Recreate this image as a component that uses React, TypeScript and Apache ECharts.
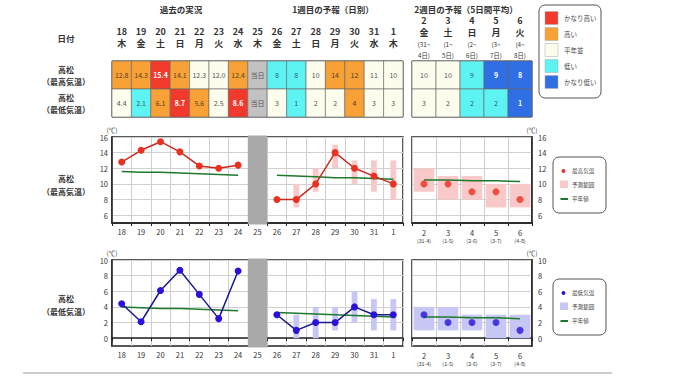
import React, { useEffect, useRef } from 'react';
import * as echarts from 'echarts';

const FONT = '"Noto Sans CJK JP", "Noto Sans", sans-serif';

// ---- categories ----
const days1 = ['18', '19', '20', '21', '22', '23', '24', '25', '26', '27', '28', '29', '30', '31', '1'];
const weekdays1 = ['木', '金', '土', '日', '月', '火', '水', '木', '金', '土', '日', '月', '火', '水', '木'];
const days2 = ['2', '3', '4', '5', '6'];
const weekdays2 = ['金', '土', '日', '月', '火'];
const periodStart2 = ['(31~', '(1~', '(2~', '(3~', '(4~'];
const periodEnd2 = ['4日)', '5日)', '6日)', '7日)', '8日)'];
const periodShort2 = ['(31-4)', '(1-5)', '(2-6)', '(3-7)', '(4-8)'];
const tableRows = ['最高気温', '最低気温'];

// ---- table values & classes ----
const tableMax1 = ['12.8', '14.3', '15.4', '14.1', '12.3', '12.0', '12.4', '当日', '8', '8', '10', '14', '12', '11', '10'];
const tableMaxClass1 = ['high', 'high', 'vhigh', 'high', 'normal', 'normal', 'high', 'today', 'low', 'low', 'normal', 'high', 'high', 'normal', 'normal'];
const tableMin1 = ['4.4', '2.1', '6.1', '8.7', '5.6', '2.5', '8.6', '当日', '3', '1', '2', '2', '4', '3', '3'];
const tableMinClass1 = ['normal', 'low', 'high', 'vhigh', 'high', 'normal', 'vhigh', 'today', 'normal', 'low', 'normal', 'normal', 'high', 'normal', 'normal'];
const tableMax2 = ['10', '10', '9', '9', '8'];
const tableMaxClass2 = ['normal', 'normal', 'low', 'vlow', 'vlow'];
const tableMin2 = ['3', '2', '2', '2', '1'];
const tableMinClass2 = ['normal', 'normal', 'low', 'low', 'vlow'];

// ---- max temperature ----
const obsMax = [12.8, 14.3, 15.4, 14.1, 12.3, 12.0, 12.4];
const fcMax = [8, 8, 10, 14, 12, 11, 10];
const fcMaxLow = [null, 7, 9, 12, 10, 9, 8];
const fcMaxHigh = [null, 10, 12, 15, 13, 13, 13];
const normMaxObs = [11.6, 11.5, 11.5, 11.4, 11.3, 11.2, 11.1];
const normMaxFc = [11.1, 11.0, 10.9, 10.8, 10.8, 10.7, 10.6];
const wk2Max = [10, 10, 9, 9, 8];
const wk2MaxLow = [9, 8, 8, 7, 7];
const wk2MaxHigh = [12, 11, 11, 10, 10];
const wk2NormMax = [10.5, 10.5, 10.4, 10.4, 10.3];

// ---- min temperature ----
const obsMin = [4.4, 2.1, 6.1, 8.7, 5.6, 2.5, 8.6];
const fcMin = [3, 1, 2, 2, 4, 3, 3];
const fcMinLow = [null, 0, 0, 1, 2, 1, 1];
const fcMinHigh = [null, 3, 4, 4, 6, 5, 5];
const normMinObs = [4.0, 3.9, 3.8, 3.8, 3.7, 3.6, 3.5];
const normMinFc = [3.3, 3.2, 3.1, 3.0, 2.9, 2.8, 2.7];
const wk2Min = [3, 2, 2, 2, 1];
const wk2MinLow = [1, 1, 1, 0, 0];
const wk2MinHigh = [4, 4, 3, 3, 3];
const wk2NormMin = [2.7, 2.7, 2.6, 2.6, 2.5];

const maxAxis = { min: 5, max: 16 };
const minAxis = { min: -1, max: 10 };

const legendClasses = ['vhigh', 'high', 'normal', 'low', 'vlow'];
const legendClassLabels = ['かなり高い', '高い', '平年並', '低い', 'かなり低い'];

const CLASS_STYLE: Record<string, { fill: string; text: string; bold: boolean }> = {
  vhigh: { fill: '#f23a2c', text: '#ffffff', bold: true },
  high: { fill: '#f7a136', text: '#5a4020', bold: false },
  normal: { fill: '#fdfdee', text: '#555555', bold: false },
  low: { fill: '#5ef3f3', text: '#2f5f70', bold: false },
  vlow: { fill: '#2f6fe3', text: '#ffffff', bold: true },
  today: { fill: '#c2c2c2', text: '#555555', bold: false },
};

const OBS_LEN = 7;
const GAP = 1; // day 25 (today)
const pad = (n: number) => Array(n).fill(null);
const series1 = (obs: (number | null)[], fc: (number | null)[]) => ({
  obs: [...obs, ...pad(GAP + fc.length)],
  fc: [...pad(obs.length + GAP), ...fc],
});

function tableRender(texts: string[][], classes: string[][]) {
  return (params: any, api: any) => {
    const c = api.value(0);
    const r = api.value(1);
    const p = api.coord([c, r]);
    const s = api.size([1, 1]);
    const st = CLASS_STYLE[classes[r][c]];
    return {
      type: 'group',
      children: [
        {
          type: 'rect',
          shape: { x: p[0] - s[0] / 2, y: p[1] - s[1] / 2, width: s[0], height: s[1] },
          style: { fill: st.fill, stroke: '#666', lineWidth: 0.6 },
        },
        {
          type: 'text',
          style: {
            text: texts[r][c], x: p[0], y: p[1], align: 'center', verticalAlign: 'middle',
            fill: st.text, fontSize: 7, fontWeight: st.bold ? 'bold' : 'normal', fontFamily: FONT,
          },
        },
      ],
    };
  };
}

function rangeRender(color: string, ratio: number, ext = 0) {
  return (params: any, api: any) => {
    const x = api.value(0);
    const top = api.coord([x, api.value(2)]);
    const bot = api.coord([x, api.value(1)]);
    const w = api.size([1, 0])[0] * ratio;
    return {
      type: 'rect',
      shape: { x: top[0] - w / 2, y: top[1] - ext, width: w, height: bot[1] - top[1] + 2 * ext },
      style: { fill: color },
    };
  };
}

const rangeData = (lo: (number | null)[], hi: (number | null)[], offset: number) =>
  lo.map((v, i) => (v == null || hi[i] == null ? null : [i + offset, v, hi[i]])).filter((d) => d) as number[][];

const tableData = (cols: number) => {
  const out: number[][] = [];
  for (let r = 0; r < 2; r++) for (let c = 0; c < cols; c++) out.push([c, r]);
  return out;
};

function txt(text: string, x: number, y: number, size: number, bold = true, align = 'center', fill = '#333') {
  return {
    type: 'text', x, y, silent: true,
    style: {
      text, fill, fontSize: size, fontWeight: bold ? 'bold' : 'normal', fontFamily: FONT,
      align, textAlign: align, verticalAlign: 'middle', textVerticalAlign: 'middle',
    },
  };
}

const App: React.FC = () => {
  const ref = useRef<HTMLDivElement>(null);

  useEffect(() => {
    if (!ref.current) return;
    const chart = echarts.init(ref.current, null, { renderer: 'svg' });

    const P1L = 112, P1W = 291, P2L = 412, P2W = 120;
    const grids = [
      { left: P1L, top: 61, width: P1W, height: 56, show: true, borderColor: '#333', borderWidth: 1 },
      { left: P2L, top: 61, width: P2W, height: 56, show: true, borderColor: '#333', borderWidth: 1 },
      { left: P1L, top: 137, width: P1W, height: 86, show: true, borderColor: '#222', borderWidth: 1.5 },
      { left: P2L, top: 137, width: P2W, height: 86, show: true, borderColor: '#222', borderWidth: 1.5 },
      { left: P1L, top: 260, width: P1W, height: 86, show: true, borderColor: '#222', borderWidth: 1.5 },
      { left: P2L, top: 260, width: P2W, height: 86, show: true, borderColor: '#222', borderWidth: 1.5 },
    ];

    const tableX = (gi: number, data: string[], fmt: (v: string, i: number) => string, margin: number, rich: any) => ({
      type: 'category', gridIndex: gi, data, position: 'top',
      axisLine: { show: false }, axisTick: { show: false }, splitLine: { show: false },
      axisLabel: { interval: 0, margin, formatter: fmt, rich },
    });
    const headRich = {
      d: { fontSize: 9, fontWeight: 'bold', lineHeight: 12, color: '#333', fontFamily: FONT },
      w: { fontSize: 9, fontWeight: 'bold', lineHeight: 12, color: '#333', fontFamily: FONT },
      s: { fontSize: 6.3, lineHeight: 11, color: '#333', fontFamily: FONT },
    };

    const chartX = (gi: number, data: string[], fmt?: any) => ({
      type: 'category', gridIndex: gi, data,
      axisLine: { show: true, lineStyle: { color: '#222', width: 1.5 } },
      axisTick: { show: true, length: 3, lineStyle: { color: '#222' } },
      splitLine: { show: true, lineStyle: { color: '#cfcfcf', width: 1 } },
      axisLabel: {
        interval: 0, margin: 5, fontSize: 7.5, color: '#333', fontFamily: FONT,
        formatter: fmt,
        rich: {
          a: { fontSize: 7.5, lineHeight: 9, color: '#333', fontFamily: FONT },
          b: { fontSize: 5.3, lineHeight: 8, color: '#333', fontFamily: FONT },
        },
      },
    });
    const chartY = (gi: number, ax: { min: number; max: number }, pos: 'left' | 'right') => ({
      type: 'value', gridIndex: gi, min: ax.min, max: ax.max, interval: 1, position: pos,
      name: '(℃)', nameLocation: 'end', nameGap: 4,
      nameTextStyle: { fontSize: 6.5, color: '#333', fontFamily: FONT, align: 'center' },
      axisLine: { show: true, lineStyle: { color: '#222', width: 1.5 } },
      axisTick: { show: false },
      splitLine: { show: true, lineStyle: { color: ['rgba(0,0,0,0)', '#cfcfcf'], width: 1 } },
      axisLabel: {
        margin: pos === 'left' ? 4 : 6, fontSize: 7.5, color: '#333', fontFamily: FONT,
        formatter: (v: number) => (v % 2 === 0 ? String(v) : ''),
      },
    });

    const wk2Fmt = (v: string, i: number) => `{a|${v}}\n{b|${periodShort2[i]}}`;

    const xAxis = [
      tableX(0, days1, (v, i) => `{d|${v}}\n{w|${weekdays1[i]}}`, 12, headRich),
      tableX(1, days2, (v, i) => `{d|${v}}\n{w|${weekdays2[i]}}\n{s|${periodStart2[i]}}\n{s|${periodEnd2[i]}}`, 0.5, headRich),
      chartX(2, days1),
      chartX(3, days2, wk2Fmt),
      chartX(4, days1),
      chartX(5, days2, wk2Fmt),
    ];
    const tableY = (gi: number) => ({
      type: 'category', gridIndex: gi, data: tableRows, inverse: true, show: false,
    });
    const yAxis = [
      tableY(0), tableY(1),
      chartY(2, maxAxis, 'left'), chartY(3, maxAxis, 'right'),
      chartY(4, minAxis, 'left'), chartY(5, minAxis, 'right'),
    ];

    const RED_LINE = '#c9291f', RED_DOT = '#ea3122', PINK = '#f9c8c8';
    const BLUE_LINE = '#1b1a8c', BLUE_DOT = '#2b12d8', LAV = '#c7c7f5';
    const GREEN = '#1d7a2b';

    const lineS = (xi: number, data: any[], line: string, dot: string | null, z = 4) => ({
      type: 'line', xAxisIndex: xi, yAxisIndex: xi, data, z,
      connectNulls: false,
      symbol: dot ? 'circle' : 'none', symbolSize: 7,
      itemStyle: { color: dot || line, borderWidth: 0 },
      lineStyle: { color: line, width: dot ? 1.5 : 1.5 },
      emphasis: { disabled: true },
    });

    const mx = series1(obsMax, fcMax);
    const mxN = series1(normMaxObs, normMaxFc);
    const mn = series1(obsMin, fcMin);
    const mnN = series1(normMinObs, normMinFc);
    const fcOff = OBS_LEN + GAP;

    const series: any[] = [
      { type: 'custom', xAxisIndex: 0, yAxisIndex: 0, data: tableData(15), renderItem: tableRender([tableMax1, tableMin1], [tableMaxClass1, tableMinClass1]), z: 3 },
      { type: 'custom', xAxisIndex: 1, yAxisIndex: 1, data: tableData(5), renderItem: tableRender([tableMax2, tableMin2], [tableMaxClass2, tableMinClass2]), z: 3 },

      // upper panel 1
      { type: 'custom', xAxisIndex: 2, yAxisIndex: 2, data: [[OBS_LEN, maxAxis.min, maxAxis.max]], renderItem: rangeRender('#a9a9a9', 1, 1.5), z: 5 },
      { type: 'custom', xAxisIndex: 2, yAxisIndex: 2, data: rangeData(fcMaxLow, fcMaxHigh, fcOff), renderItem: rangeRender(PINK, 0.3), z: 1 },
      lineS(2, mxN.obs, GREEN, null, 3),
      lineS(2, mxN.fc, GREEN, null, 3),
      lineS(2, mx.obs, RED_LINE, RED_DOT),
      lineS(2, mx.fc, RED_LINE, RED_DOT),
      // upper panel 2
      { type: 'custom', xAxisIndex: 3, yAxisIndex: 3, data: rangeData(wk2MaxLow, wk2MaxHigh, 0), renderItem: rangeRender(PINK, 0.86), z: 1 },
      lineS(3, wk2NormMax, GREEN, null, 3),
      { type: 'scatter', xAxisIndex: 3, yAxisIndex: 3, data: wk2Max, symbolSize: 7, itemStyle: { color: RED_DOT }, z: 4 },

      // lower panel 1
      { type: 'custom', xAxisIndex: 4, yAxisIndex: 4, data: [[OBS_LEN, minAxis.min, minAxis.max]], renderItem: rangeRender('#a9a9a9', 1, 1.5), z: 5 },
      { type: 'custom', xAxisIndex: 4, yAxisIndex: 4, data: rangeData(fcMinLow, fcMinHigh, fcOff), renderItem: rangeRender(LAV, 0.3), z: 1 },
      lineS(4, mnN.obs, GREEN, null, 3),
      lineS(4, mnN.fc, GREEN, null, 3),
      lineS(4, mn.obs, BLUE_LINE, BLUE_DOT),
      lineS(4, mn.fc, BLUE_LINE, BLUE_DOT),
      // lower panel 2
      { type: 'custom', xAxisIndex: 5, yAxisIndex: 5, data: rangeData(wk2MinLow, wk2MinHigh, 0), renderItem: rangeRender(LAV, 0.86), z: 1 },
      lineS(5, wk2NormMin, GREEN, null, 3),
      { type: 'scatter', xAxisIndex: 5, yAxisIndex: 5, data: wk2Min, symbolSize: 7, itemStyle: { color: BLUE_DOT }, z: 4 },
    ];

    // legends
    const legend1: any[] = [
      { type: 'rect', shape: { x: 539, y: 5, width: 62, height: 93, r: 6 }, style: { fill: '#fff', stroke: '#555', lineWidth: 1 } },
    ];
    legendClasses.forEach((cls, i) => {
      const cy = 18 + i * 16;
      legend1.push({ type: 'rect', shape: { x: 545, y: cy - 6.5, width: 13, height: 13 }, style: { fill: CLASS_STYLE[cls].fill, stroke: '#aaa', lineWidth: 0.5 } });
      legend1.push(txt(legendClassLabels[i], 564, cy, 6.5, false, 'left', '#444'));
    });
    const seriesLegend = (top: number, dot: string, band: string, label: string) => [
      { type: 'rect', shape: { x: 553, y: top, width: 53, height: 56, r: 6 }, style: { fill: '#fff', stroke: '#555', lineWidth: 1 } },
      { type: 'circle', shape: { cx: 563.5, cy: top + 14, r: 1.9 }, style: { fill: dot } },
      txt(label, 572, top + 14, 5.6, false, 'left', '#444'),
      { type: 'rect', shape: { x: 560, y: top + 23.5, width: 8, height: 7.5 }, style: { fill: band } },
      txt('予測範囲', 572, top + 27.5, 5.6, false, 'left', '#444'),
      { type: 'line', shape: { x1: 560.5, y1: top + 42, x2: 568, y2: top + 42 }, style: { stroke: GREEN, lineWidth: 2 } },
      txt('平年値', 572, top + 42, 5.6, false, 'left', '#444'),
    ];

    const graphic: any[] = [
      txt('過去の実況', 181, 9, 8.5),
      txt('1週目の予報（日別）', 333, 9, 8.5),
      txt('2週目の予報（5日間平均）', 466, 9, 8.5),
      txt('日付', 66, 38, 8.5),
      txt('高松', 66, 69, 8),
      txt('（最高気温）', 66, 81, 8),
      txt('高松', 66, 97, 8),
      txt('（最低気温）', 66, 109, 8),
      txt('高松', 66, 178, 8),
      txt('（最高気温）', 66, 191, 8),
      txt('高松', 66, 298, 8),
      txt('（最低気温）', 66, 311, 8),
      ...legend1,
      ...seriesLegend(157, RED_DOT, PINK, '最高気温'),
      ...seriesLegend(279, BLUE_DOT, LAV, '最低気温'),
      { type: 'line', shape: { x1: 23, y1: 373, x2: 612, y2: 373 }, style: { stroke: '#bbbbbb', lineWidth: 1.5 } },
    ];

    chart.setOption({
      animation: false,
      backgroundColor: '#ffffff',
      textStyle: { fontFamily: FONT },
      grid: grids,
      xAxis,
      yAxis,
      series,
      graphic,
    });

    return () => chart.dispose();
  }, []);

  return (
    <div style={{ position: 'absolute', left: 0, top: 0, width: 680, height: 382, background: '#fff' }}>
      <div ref={ref} style={{ width: 680, height: 382 }} />
    </div>
  );
};

export default App;
